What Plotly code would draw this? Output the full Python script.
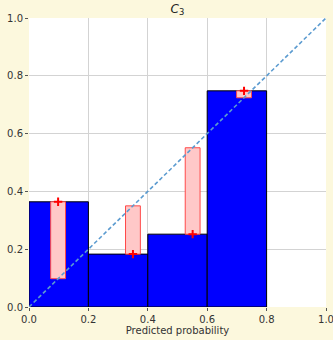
import plotly.graph_objects as go

bin_centers = [0.1, 0.3, 0.5, 0.7]
bin_width = 0.2
accuracy = [0.364, 0.183, 0.252, 0.748]
confidence = [0.098, 0.350, 0.551, 0.724]
gap_width = 0.05
diag = [0.0, 1.0]
tick_vals = [0.0, 0.2, 0.4, 0.6, 0.8, 1.0]
tick_text = ["0.0", "0.2", "0.4", "0.6", "0.8", "1.0"]

fig = go.Figure()
fig.add_trace(go.Bar(x=bin_centers, y=accuracy, width=[bin_width] * 4,
                     marker=dict(color="#0000ff", line=dict(color="black", width=1)),
                     showlegend=False))
fig.add_trace(go.Bar(x=confidence, base=confidence,
                     y=[a - c for a, c in zip(accuracy, confidence)],
                     width=[gap_width] * 4,
                     marker=dict(color="#ffc8c8", line=dict(color="#ff4848", width=1)),
                     showlegend=False))
fig.add_trace(go.Scatter(x=diag, y=diag, mode="lines",
                         line=dict(color="#5b9bd0", width=1.6, dash="4px,2.5px"), showlegend=False))
fig.add_trace(go.Scatter(x=confidence, y=accuracy, mode="markers",
                         marker=dict(symbol="cross-thin", size=6, line=dict(color="red", width=2)),
                         showlegend=False))

axis_common = dict(range=[0, 1], tickvals=tick_vals, ticktext=tick_text, automargin=False,
                   showgrid=True, gridcolor="#d3d3d3", gridwidth=1, zeroline=False,
                   showline=False, ticks="outside", ticklen=3, tickcolor="#555",
                   ticklabeloverflow="allow",
                   tickfont=dict(family="DejaVu Sans", size=10, color="#333"))
fig.update_xaxes(**axis_common,
                 title=dict(text="Predicted probability", standoff=2,
                            font=dict(family="DejaVu Sans", size=10, color="#333")))
fig.update_yaxes(**axis_common)
fig.update_layout(width=333, height=340, barmode="overlay",
                  margin=dict(l=29, r=7, t=18, b=33, autoexpand=False),
                  paper_bgcolor="#fcf8dd", plot_bgcolor="white",
                  title=dict(text="<i>C</i><sub>3</sub>", x=0.533, xanchor="center", y=0.975, yanchor="middle",
                             font=dict(family="DejaVu Sans", size=12, color="#222")))
fig.write_html("out.html", config={"displayModeBar": False},
               post_script="document.body.style.margin='0';document.body.style.overflow='hidden';")
